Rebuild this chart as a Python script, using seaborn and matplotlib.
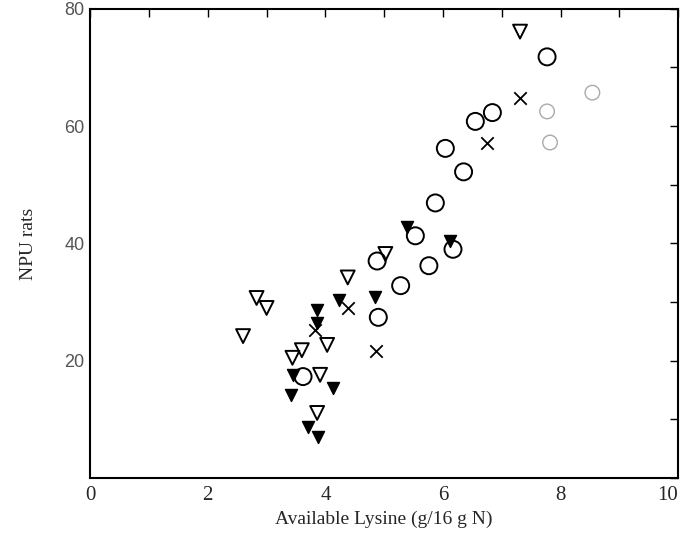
import matplotlib
matplotlib.use("Agg")
import matplotlib.pyplot as plt
import seaborn as sns
import pandas as pd

# open circles
circle_x = [3.62, 4.90, 4.88, 5.28, 5.76, 6.17, 5.53, 5.87, 6.35, 6.04, 6.55, 6.84, 7.77]
circle_y = [17.3, 27.4, 37.0, 32.8, 36.2, 39.0, 41.3, 46.9, 52.2, 56.2, 60.8, 62.3, 71.8]

# faint (poorly printed) circles
faint_x = [7.77, 7.82, 8.54]
faint_y = [62.5, 57.2, 65.7]

# open inverted triangles
tri_x = [2.60, 2.83, 3.00, 4.38, 4.03, 3.60, 3.44, 3.91, 3.86, 7.31, 5.02]
tri_y = [24.2, 30.7, 29.0, 34.2, 22.7, 21.8, 20.5, 17.6, 11.1, 76.1, 38.2]

# filled inverted triangles
ftri_x = [3.86, 4.23, 3.86, 4.84, 5.39, 6.12, 3.45, 4.13, 3.42, 3.71, 3.88]
ftri_y = [28.7, 30.4, 26.5, 30.8, 42.8, 40.4, 17.6, 15.4, 14.2, 8.7, 7.0]

# crosses
cross_x = [3.83, 4.86, 6.75, 7.31, 4.39]
cross_y = [25.3, 21.6, 57.2, 64.8, 29.0]

x_ticks = [0, 2, 4, 6, 8, 10]
y_ticks = [20, 40, 60, 80]

sns.set_theme(style="white")
plt.rcParams["font.family"] = ["Liberation Serif", "DejaVu Serif"]

fig, ax = plt.subplots(figsize=(6.83, 5.47), dpi=100)
fig.subplots_adjust(left=0.132, right=0.993, bottom=0.126, top=0.984)

sns.scatterplot(x=circle_x, y=circle_y, marker="o", s=150, facecolor="none",
                edgecolor="black", linewidth=1.4, ax=ax)
sns.scatterplot(x=faint_x, y=faint_y, marker="o", s=110, facecolor="none",
                edgecolor="#aaaaaa", linewidth=1.0, ax=ax)
sns.scatterplot(x=tri_x, y=tri_y, marker="v", s=100, facecolor="none",
                edgecolor="black", linewidth=1.4, ax=ax)
sns.scatterplot(x=ftri_x, y=ftri_y, marker="v", s=75, color="black",
                edgecolor="black", linewidth=1.0, ax=ax)
sns.scatterplot(x=cross_x, y=cross_y, marker="x", s=80, color="black",
                linewidth=1.3, ax=ax)

ax.set_xlim(0, 10)
ax.set_ylim(0, 80)
ax.set_xticks(x_ticks)
ax.set_xticks(range(0, 11), minor=True)
ax.set_yticks(y_ticks)
ax.set_yticks(range(0, 81, 10), minor=True)
ax.tick_params(which="both", direction="in", top=True, right=True,
               length=6, width=1, color="black")
ax.tick_params(axis="x", labelsize=15, pad=6)
ax.tick_params(axis="y", labelsize=13, labelcolor="#555555", pad=4)
for lab in ax.get_yticklabels():
    lab.set_family(["Liberation Sans", "DejaVu Sans"])
# keep the last x label inside the figure
ax.get_xticklabels()[-1].set_horizontalalignment("right")

for sp in ax.spines.values():
    sp.set_color("black")
    sp.set_linewidth(1.5)

ax.set_xlabel("Available Lysine (g/16 g N)", fontsize=14, labelpad=4)
ax.set_ylabel("NPU rats", fontsize=14, labelpad=20)

plt.savefig("out.png", dpi=100)
